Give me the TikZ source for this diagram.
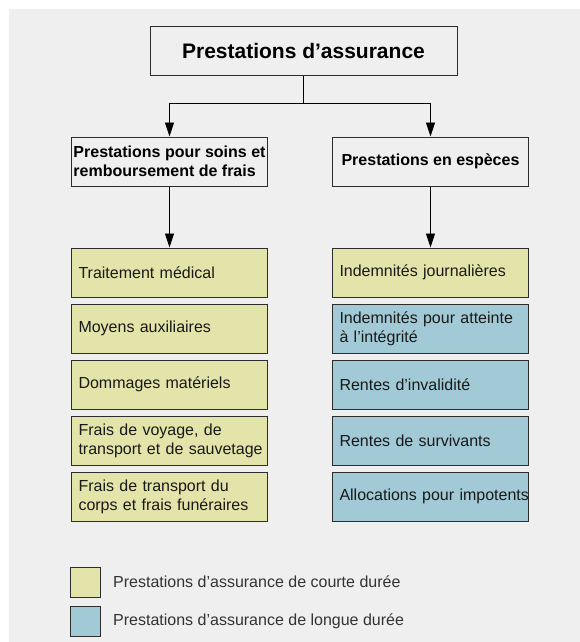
\documentclass[tikz,border=0pt]{standalone}
\usepackage{fontspec}
\setmainfont{Liberation Sans}
\usetikzlibrary{arrows.meta}
\definecolor{bggray}{RGB}{239,239,239}
\definecolor{shortcol}{RGB}{227,228,170}
\definecolor{longcol}{RGB}{162,202,214}
\definecolor{linegray}{RGB}{45,45,45}

\begin{document}
\begin{tikzpicture}[
    x=1pt, y=-1pt,
    % 节点样式
    mytitle/.style={rectangle, line width=1pt, draw=linegray, fill=bggray, minimum width=307pt, minimum height=48pt, font=\fontsize{21}{25}\selectfont\bfseries},
    myhead/.style={rectangle, line width=1pt, draw=linegray, fill=bggray, minimum width=196pt, minimum height=49pt, inner sep=2pt, align=left, font=\fontsize{16}{18.5}\selectfont\bfseries},
    mybox/.style={rectangle, line width=1pt, draw=linegray, text width=182pt, inner xsep=7pt, inner ysep=0pt, minimum height=49pt, align=left, text=black!90, font=\fontsize{16}{19}\selectfont, execute at begin node={\hyphenpenalty=10000\relax}},
    myshort/.style={mybox, fill=shortcol},
    mylong/.style={mybox, fill=longcol},
    mykey/.style={rectangle, line width=1pt, draw=linegray, inner sep=0pt, minimum size=30pt},
    myline/.style={line width=0.9pt},
    myarrow/.style={line width=0.9pt, -{Triangle[length=14pt, width=9pt]}},
    mylegend/.style={anchor=west, inner sep=0pt, text=black!80, font=\fontsize{16}{19}\selectfont}
]
    % 背景
    \useasboundingbox (0, 0) rectangle (580, 642);
    \fill [bggray] (9, 9) rectangle (580, 642);

    % 上层节点
    \node [mytitle] (titre) at (303.5, 51) {Prestations d’assurance};
    \node [myhead] (soins) at (169.5, 161.5) {Prestations pour soins et\\remboursement de frais};
    \node [myhead] (especes) at (430.5, 161.5) {Prestations en espèces};

    % 左列
    \node [myshort] (traitement) at (169.5, 272.5) {Traitement médical};
    \node [myshort] (moyens) at (169.5, 328.5) {Moyens auxiliaires};
    \node [myshort] (dommages) at (169.5, 384.5) {Dommages matériels};
    \node [myshort] (voyage) at (169.5, 440.5) {Frais de voyage, de\\transport~et~de~sauvetage};
    \node [myshort] (funeraires) at (169.5, 496.5) {Frais de transport du\\corps et frais funéraires};

    % 右列
    \node [myshort] (journalieres) at (430.5, 272.5) {Indemnités journalières};
    \node [mylong] (integrite) at (430.5, 328.5) {Indemnités pour atteinte\\à l’intégrité};
    \node [mylong] (invalidite) at (430.5, 384.5) {Rentes d’invalidité};
    \node [mylong] (survivants) at (430.5, 440.5) {Rentes de survivants};
    \node [mylong] (impotents) at (430.5, 496.5) {Allocations~pour~impotents};

    % 连线
    \draw [myline] (titre.south) -- ++(0, 28) coordinate (split);
    \draw [myarrow] (split) -| (soins.north);
    \draw [myarrow] (split) -| (especes.north);
    \draw [myarrow] (soins) -- (traitement);
    \draw [myarrow] (especes) -- (journalieres);

    % 图例
    \node [mykey, fill=shortcol] (keycourt) at (85, 582) {};
    \node [mylegend] (txtcourt) at (113, 582) {Prestations d’assurance de courte durée};
    \node [mykey, fill=longcol] (keylong) at (85, 621) {};
    \node [mylegend] (txtlong) at (113, 621) {Prestations d’assurance de longue durée};
\end{tikzpicture}
\end{document}
